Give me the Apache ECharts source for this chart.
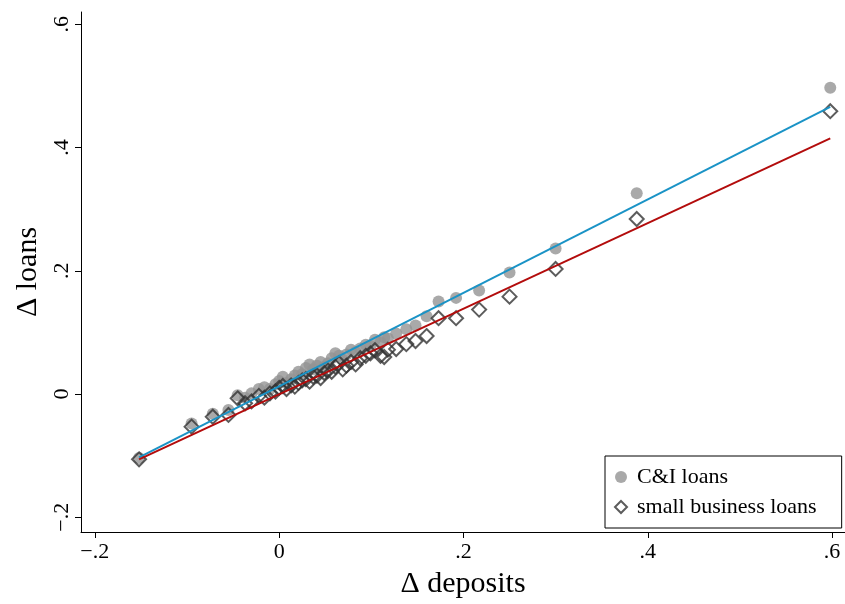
<!DOCTYPE html>
<html>
<head>
<meta charset="utf-8">
<script src="https://cdn.jsdelivr.net/npm/echarts@6/dist/echarts.min.js"></script>
<style>
html, body { margin: 0; padding: 0; background: #fff; }
#main { width: 845px; height: 604px; }
</style>
</head>
<body>
<div id="main"></div>
<script>
// deposit changes (x), shared by both loan series
var deposits = [-0.152, -0.095, -0.072, -0.055, -0.045, -0.037, -0.030, -0.022, -0.016, -0.010,
    -0.004, 0.000, 0.004, 0.008, 0.013, 0.017, 0.021, 0.025, 0.029, 0.033,
    0.037, 0.041, 0.045, 0.049, 0.053, 0.057, 0.061, 0.065, 0.069, 0.073,
    0.078, 0.083, 0.088, 0.094, 0.099, 0.104, 0.110, 0.114, 0.118, 0.127,
    0.138, 0.148, 0.160, 0.173, 0.192, 0.217, 0.250, 0.300, 0.388, 0.598];
var ciLoans = [-0.104, -0.048, -0.032, -0.026, -0.002, -0.006, 0.001, 0.008, 0.011, 0.008,
    0.016, 0.021, 0.028, 0.018, 0.024, 0.030, 0.036, 0.032, 0.042, 0.048,
    0.040, 0.046, 0.052, 0.044, 0.050, 0.058, 0.066, 0.062, 0.056, 0.064,
    0.072, 0.068, 0.074, 0.080, 0.078, 0.088, 0.084, 0.092, 0.090, 0.098,
    0.105, 0.111, 0.126, 0.150, 0.156, 0.168, 0.197, 0.236, 0.326, 0.497];
var sbLoans = [-0.106, -0.053, -0.037, -0.034, -0.007, -0.015, -0.012, -0.003, -0.006, 0.001,
    0.004, 0.010, 0.013, 0.008, 0.014, 0.012, 0.018, 0.022, 0.024, 0.020,
    0.028, 0.030, 0.026, 0.034, 0.038, 0.036, 0.044, 0.050, 0.040, 0.046,
    0.052, 0.048, 0.058, 0.062, 0.066, 0.071, 0.062, 0.060, 0.072, 0.073,
    0.081, 0.086, 0.094, 0.123, 0.123, 0.137, 0.158, 0.203, 0.284, 0.459];
// fitted lines, endpoints
var ciFit = [[-0.152, -0.103], [0.598, 0.466]];
var sbFit = [[-0.152, -0.106], [0.598, 0.415]];
var xTicks = [-0.2, 0, 0.2, 0.4, 0.6];
var yTicks = [-0.2, 0, 0.2, 0.4, 0.6];

function pairs(xs, ys) {
    var out = [];
    for (var i = 0; i < xs.length; i++) out.push([xs[i], ys[i]]);
    return out;
}

// stata style labels: .2, −.2, 0
function stataLabel(v) {
    var r = Math.round(v * 10) / 10;
    if (r === 0) return '0';
    var s = Math.abs(r).toFixed(1).replace(/^0/, '');
    return r < 0 ? '\u2212' + s : s;
}

var serif = 'Liberation Serif';

var chart = echarts.init(document.getElementById('main'));
var option = {
    animation: false,
    backgroundColor: '#fff',
    grid: { left: 81, right: 0, top: 12, bottom: 68, containLabel: false },
    legend: {
        data: ['C&I loans', 'small business loans'],
        orient: 'vertical',
        left: 605,
        top: 456,
        padding: [10, 25, 10, 9],
        itemWidth: 12,
        itemHeight: 12,
        itemGap: 8,
        borderColor: '#000',
        borderWidth: 1,
        backgroundColor: '#fff',
        textStyle: { fontFamily: serif, fontSize: 22, color: '#000', padding: [0, 0, 0, 5] }
    },
    xAxis: {
        type: 'value',
        min: -0.215,
        max: 0.614,
        name: '\u0394 deposits',
        nameLocation: 'middle',
        nameGap: 37,
        nameTextStyle: { fontFamily: serif, fontSize: 30, color: '#000' },
        axisLine: { show: true, onZero: false, lineStyle: { color: '#000', width: 1 } },
        axisTick: { show: true, length: 6, lineStyle: { color: '#000' }, customValues: xTicks },
        axisLabel: {
            customValues: xTicks,
            fontFamily: serif, fontSize: 22, color: '#000', margin: 9,
            formatter: stataLabel
        },
        splitLine: { show: false }
    },
    yAxis: {
        type: 'value',
        min: -0.224,
        max: 0.62,
        name: '\u0394 loans',
        nameLocation: 'middle',
        nameRotate: 90,
        nameGap: 36,
        nameTextStyle: { fontFamily: serif, fontSize: 30, color: '#000' },
        axisLine: { show: true, onZero: false, lineStyle: { color: '#000', width: 1 } },
        axisTick: { show: true, length: 6, lineStyle: { color: '#000' }, customValues: yTicks },
        axisLabel: {
            customValues: yTicks,
            rotate: 90,
            fontFamily: serif, fontSize: 22, color: '#000', margin: 8,
            formatter: stataLabel
        },
        splitLine: { show: false }
    },
    series: [
        {
            name: 'C&I loans',
            type: 'scatter',
            symbol: 'circle',
            symbolSize: 12,
            itemStyle: { color: '#939393' },
            data: pairs(deposits, ciLoans),
            z: 2
        },
        {
            name: 'small business loans',
            type: 'scatter',
            symbol: 'diamond',
            symbolSize: 14,
            itemStyle: { color: 'rgba(0,0,0,0)', borderColor: '#333', borderWidth: 2 },
            data: pairs(deposits, sbLoans),
            z: 3
        },
        {
            name: 'fit C&I',
            type: 'line',
            showSymbol: false,
            lineStyle: { color: '#1a93c6', width: 2 },
            data: ciFit,
            z: 4
        },
        {
            name: 'fit small business',
            type: 'line',
            showSymbol: false,
            lineStyle: { color: '#b30c0c', width: 2 },
            data: sbFit,
            z: 4
        }
    ]
};
chart.setOption(option);
</script>
</body>
</html>
